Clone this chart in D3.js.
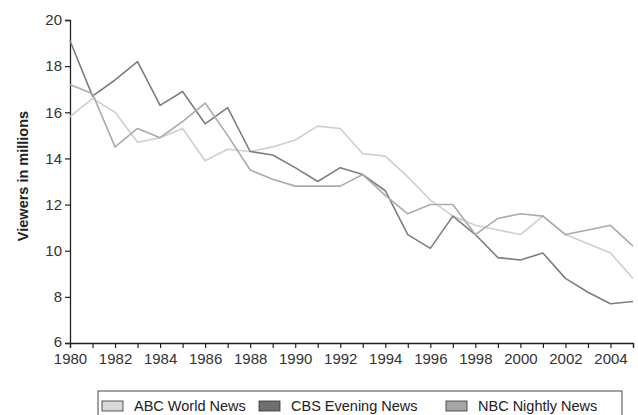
<!DOCTYPE html>
<html lang="en">

<head>
    <meta charset="utf-8">
    <script src="https://d3js.org/d3.v7.min.js"></script>
    <style>
        body { margin: 0; background: #fff; }
        svg { font-family: "Liberation Sans", Arial, sans-serif; }
    </style>
</head>

<body>
    <script>

        // data (viewers in millions)
        const years = d3.range(1980, 2006);
        const abc = [15.8, 16.6, 16.0, 14.7, 14.9, 15.3, 13.9, 14.4, 14.3, 14.5, 14.8, 15.4, 15.3,
            14.2, 14.1, 13.2, 12.2, 11.5, 11.1, 10.9, 10.7, 11.5, 10.7, 10.3, 9.9, 8.8];
        const cbs = [19.1, 16.7, 17.4, 18.2, 16.3, 16.9, 15.5, 16.2, 14.3, 14.15, 13.6, 13.0, 13.6,
            13.3, 12.6, 10.7, 10.1, 11.5, 10.7, 9.7, 9.6, 9.9, 8.8, 8.2, 7.7, 7.8];
        const nbc = [17.2, 16.8, 14.5, 15.3, 14.9, 15.6, 16.4, 15.0, 13.5, 13.1, 12.8, 12.8, 12.8,
            13.3, 12.4, 11.6, 12.0, 12.0, 10.7, 11.4, 11.6, 11.5, 10.7, 10.9, 11.1, 10.2];
        const seriesNames = ["ABC World News", "CBS Evening News", "NBC Nightly News"];
        const yTicks = [6, 8, 10, 12, 14, 16, 18, 20];

        const series = [
            { name: seriesNames[0], values: abc, color: "#cfcfcf", swatch: "#d8d8d8" },
            { name: seriesNames[1], values: cbs, color: "#7e7e7e", swatch: "#6f6f6f" },
            { name: seriesNames[2], values: nbc, color: "#ababab", swatch: "#a6a6a6" }
        ];

        const width = 638, height = 415;
        const margin = { top: 20, right: 5, bottom: 72, left: 70 };

        const svg = d3.select("body").append("svg")
            .attr("width", width)
            .attr("height", height);

        // scales
        const x = d3.scaleLinear()
            .domain([1980, 2005])
            .range([margin.left, width - margin.right]);
        const y = d3.scaleLinear()
            .domain([6, 20])
            .range([height - margin.bottom, margin.top]);

        // x axis: a tick every year, labels every other year
        const xAxis = svg.append("g")
            .attr("transform", "translate(0," + (height - margin.bottom) + ")")
            .call(d3.axisBottom(x)
                .tickValues(years)
                .tickSize(5)
                .tickPadding(5)
                .tickFormat(d => d % 2 === 0 ? d : ""));

        // y axis
        const yAxis = svg.append("g")
            .attr("transform", "translate(" + margin.left + ",0)")
            .call(d3.axisLeft(y).tickValues(yTicks).tickSize(5).tickPadding(3));

        [xAxis, yAxis].forEach(a => {
            a.select(".domain").attr("stroke", "#222").attr("stroke-width", 1.3);
            a.selectAll(".tick line").attr("stroke", "#222").attr("stroke-width", 1.2);
            a.selectAll("text").attr("fill", "#333").style("font-size", "15px");
        });
        // lift the bottom "6" a little so it clears the year labels
        yAxis.selectAll(".tick text").filter(d => d === 6).attr("dy", "0.2em");

        // y axis title
        svg.append("text")
            .attr("transform", "translate(28,176) rotate(-90)")
            .attr("text-anchor", "middle")
            .attr("fill", "#222")
            .style("font-size", "14.5px")
            .style("font-weight", "bold")
            .text("Viewers in millions");

        // lines
        const line = d3.line()
            .x((d, i) => x(years[i]))
            .y(d => y(d));

        svg.selectAll(".series")
            .data(series)
            .enter()
            .append("path")
            .attr("class", "series")
            .attr("fill", "none")
            .attr("stroke", d => d.color)
            .attr("stroke-width", 1.6)
            .attr("stroke-linejoin", "round")
            .attr("d", d => line(d.values));

        // legend box
        const legend = svg.append("g").attr("transform", "translate(98,391)");
        legend.append("rect")
            .attr("width", 524)
            .attr("height", 30)
            .attr("fill", "#fff")
            .attr("stroke", "#444")
            .attr("stroke-width", 1);

        const legendX = [4, 161, 348];
        const items = legend.selectAll(".item")
            .data(series)
            .enter()
            .append("g")
            .attr("class", "item")
            .attr("transform", (d, i) => "translate(" + legendX[i] + ",10)");
        items.append("rect")
            .attr("width", 21)
            .attr("height", 10)
            .attr("fill", d => d.swatch)
            .attr("stroke", "#333")
            .attr("stroke-width", 0.8);
        items.append("text")
            .attr("x", 32)
            .attr("y", 10)
            .attr("fill", "#222")
            .style("font-size", "14.5px")
            .text(d => d.name);

    </script>
</body>

</html>
